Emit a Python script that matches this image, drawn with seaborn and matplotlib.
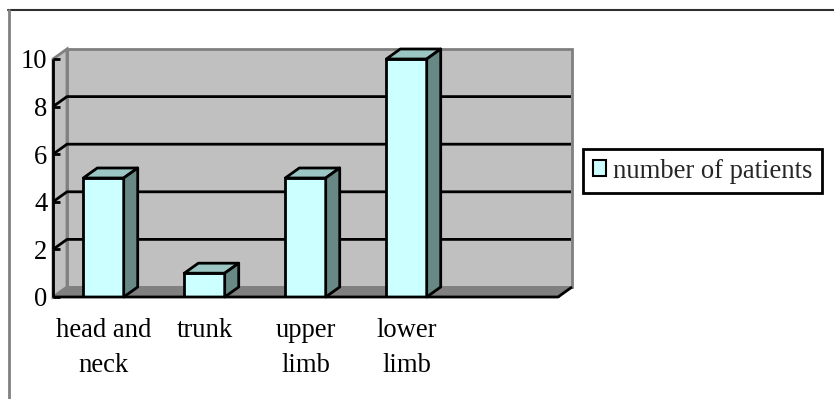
import matplotlib
matplotlib.use("Agg")
import matplotlib.pyplot as plt
from matplotlib.patches import Polygon, Patch, Rectangle
from matplotlib.lines import Line2D
import seaborn as sns
import pandas as pd
import numpy as np

# Data
categories = ["head and\nneck", "trunk", "upper\nlimb", "lower\nlimb"]
patients = [5, 1, 5, 10]
yticks = [0, 2, 4, 6, 8, 10]
series_name = "number of patients"
n_slots = 5  # category slots on the axis (last one left empty)

sns.set_style("white")
plt.rcParams["font.family"] = ["Liberation Serif", "DejaVu Serif"]

W, H, DPI = 834, 399, 100
FS = 19.2
fig = plt.figure(figsize=(W / DPI, H / DPI), dpi=DPI)
ax = fig.add_axes([53 / W, (H - 297) / H, 505 / W, 238 / H])
ax.patch.set_visible(False)

FRONT = "#CCFFFF"
TOP = "#9BC6C3"
SIDE = "#678885"
WALL = "#C0C0C0"
FLOOR = "#808080"

df = pd.DataFrame({"region": categories, "count": patients})
sns.barplot(data=df, x="region", y="count", ax=ax, color=FRONT,
            edgecolor="black", linewidth=2, width=0.4, saturation=1,
            zorder=3)
bars = [p for p in ax.patches if isinstance(p, Rectangle)]
ax.set_xlim(-0.5, n_slots - 0.5)
ax.set_ylim(0, 10)
ax.set_xlabel("")
ax.set_ylabel("")
for s in ax.spines.values():
    s.set_visible(False)

# depth of the pseudo-3D box, in pixels (right, up)
DX, DY = 14, 10
x0, x1 = -0.5, n_slots - 0.5


def disp(x, y, back=False):
    p = ax.transData.transform((x, y))
    if back:
        p = p + np.array([DX, DY])
    return p


def poly(pts, **kw):
    ax.add_artist(Polygon(np.array(pts), closed=True, transform=None,
                          clip_on=False, **kw))


def line(pts, **kw):
    pts = np.array(pts)
    ax.add_artist(Line2D(pts[:, 0], pts[:, 1], transform=None,
                         clip_on=False, solid_capstyle="butt", **kw))


# walls and floor
poly([disp(x0, 0, True), disp(x1, 0, True), disp(x1, 10, True),
      disp(x0, 10, True)], facecolor=WALL, edgecolor=FLOOR, lw=2, zorder=0.5)
poly([disp(x0, 0), disp(x0, 10), disp(x0, 10, True), disp(x0, 0, True)],
     facecolor=WALL, edgecolor=FLOOR, lw=2, zorder=0.5)
poly([disp(x0, 0), disp(x1, 0), disp(x1, 0, True), disp(x0, 0, True)],
     facecolor=FLOOR, edgecolor=FLOOR, lw=1, zorder=0.6)

# gridlines on the side and back walls
for v in yticks[1:-1]:
    line([disp(x0, v), disp(x0, v, True), disp(x1 - 0.01, v, True)],
         color="black", lw=2, zorder=0.8)

# top and side faces of each bar
for p in bars:
    bx, bw, bh = p.get_x(), p.get_width(), p.get_height()
    poly([disp(bx, bh), disp(bx + bw, bh), disp(bx + bw, bh, True),
          disp(bx, bh, True)], facecolor=TOP, edgecolor="black", lw=2,
         joinstyle="round", zorder=3)
    poly([disp(bx + bw, 0), disp(bx + bw, bh), disp(bx + bw, bh, True),
          disp(bx + bw, 0, True)], facecolor=SIDE, edgecolor="black", lw=2,
         joinstyle="round", zorder=3)

# axis lines
line([disp(x0, 0), disp(x0, 10)], color="black", lw=2, zorder=4)
line([disp(x0, 0), disp(x1, 0), disp(x1, 0, True)], color="black", lw=2,
     zorder=4)

ax.set_yticks(yticks)
ax.set_yticklabels([str(v) for v in yticks], fontsize=FS)
ax.tick_params(axis="y", direction="in", length=5, width=2, pad=4,
               left=True, colors="black")
ax.set_xticks(range(len(categories)))
ax.set_xticklabels(categories, fontsize=FS, linespacing=1.55)
ax.set_xticks(np.arange(0.5, n_slots, 1.0), minor=True)
ax.tick_params(axis="x", which="major", length=0, pad=15, colors="black")
ax.tick_params(axis="x", which="minor", direction="in", length=5, width=2,
               bottom=True, color="black")

# legend
leg = fig.legend(handles=[Patch(facecolor=FRONT, edgecolor="black", lw=1.5)],
                 labels=[series_name], loc="center left",
                 bbox_to_anchor=(583 / W, 1 - 171 / H), fontsize=FS,
                 frameon=True, fancybox=False, framealpha=1,
                 edgecolor="black", handlelength=0.5, handleheight=0.5,
                 handletextpad=0.25, borderpad=0.36, borderaxespad=0)
leg.get_frame().set_linewidth(2)

# outer chart frame
fig.add_artist(Line2D([8, W], [H - 9.5, H - 9.5], transform=None,
                      color="#303030", lw=1.5))
fig.add_artist(Line2D([8.5, 8.5], [0, H - 9.5], transform=None,
                      color="#808080", lw=2))

fig.savefig("out.png", dpi=DPI)
